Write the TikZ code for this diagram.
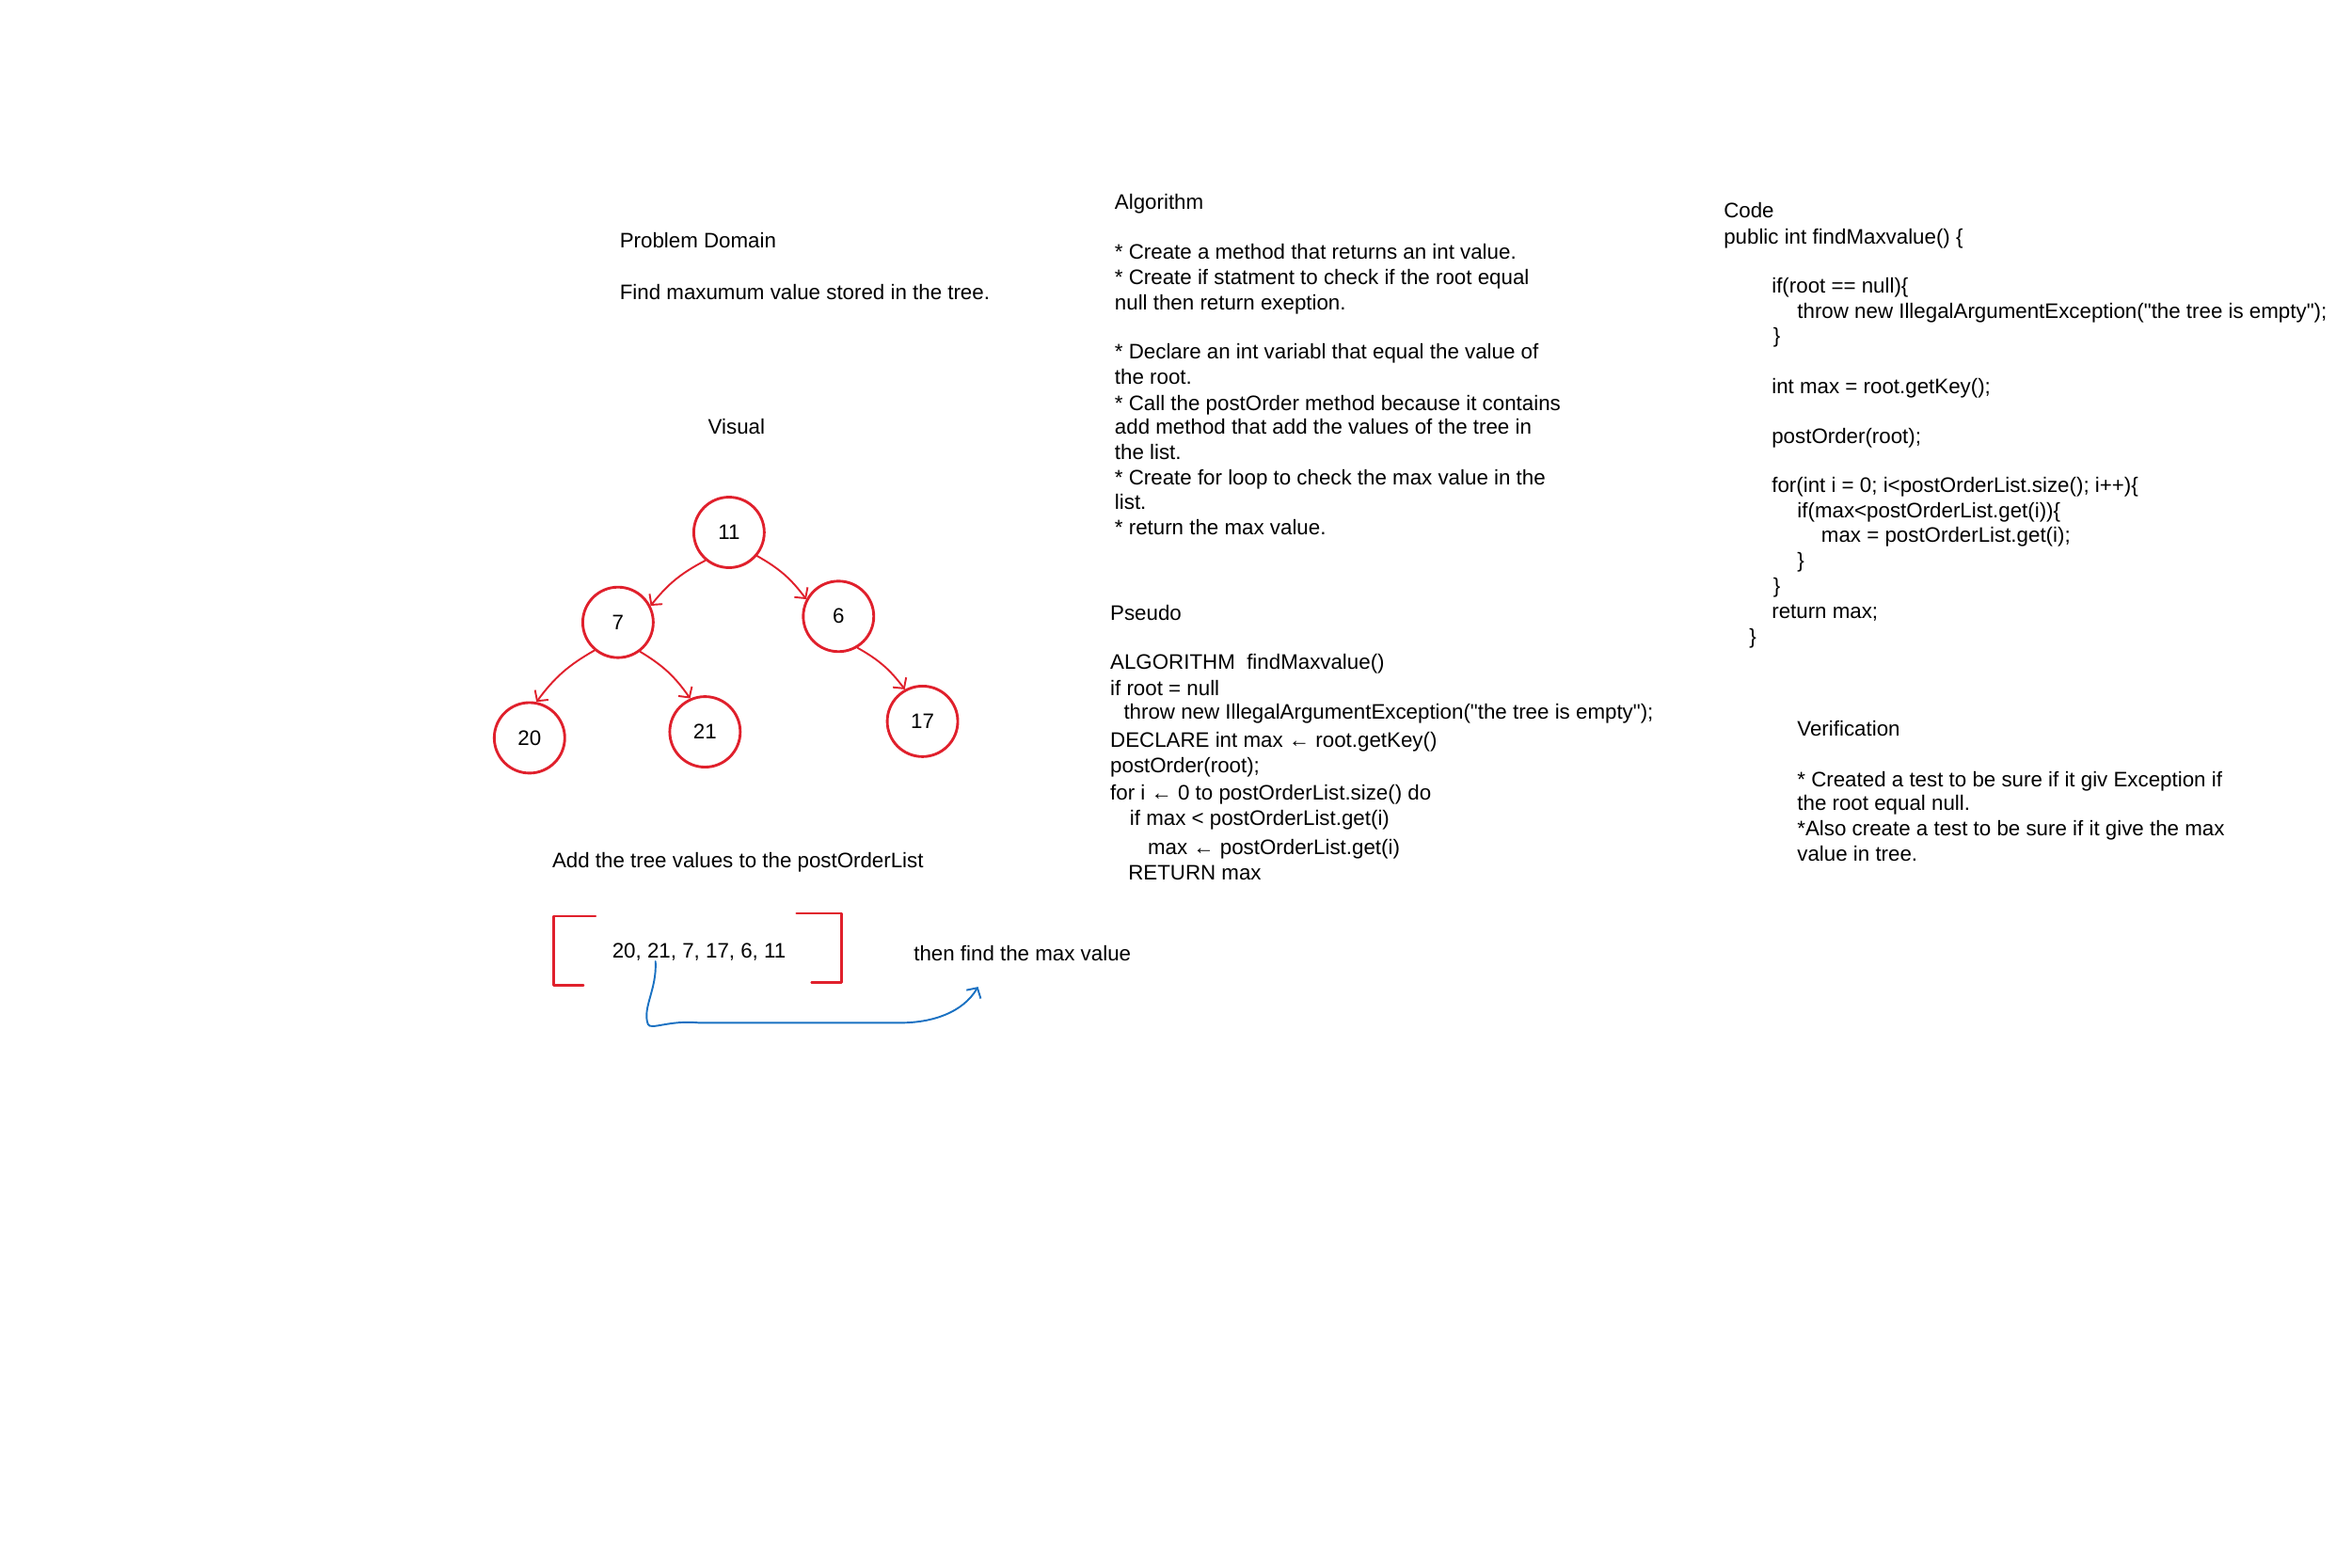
\documentclass[tikz,border=0pt]{standalone}
\usepackage{fontspec}
\setmainfont{Liberation Sans}[Ligatures=TeXOff]
\usetikzlibrary{arrows.meta}
\definecolor{sketchred}{RGB}{224,32,44}
\definecolor{sketchblue}{RGB}{25,113,194}
\newcommand\skline[4]{\node[txt] (#1) at (#2,#3) {#4};}
\begin{document}
\begin{tikzpicture}[x=1pt,y=-1pt,
  txt/.style={anchor=west,inner sep=0pt,text height=10pt,text depth=3pt,yshift=-2pt,font=\fontsize{14}{16.7}\selectfont},
  treenode/.style={circle,draw=sketchred,line width=1.8pt,minimum size=47pt,inner sep=0pt,font=\fontsize{14}{16.7}\selectfont},
  treearrow/.style={draw=sketchred,line width=1.2pt,line cap=round,-{Straight Barb[length=5pt,width=11pt]}},
  bracketline/.style={draw=sketchred,line width=1.5pt,line cap=round,line join=round},
  bluearrow/.style={draw=sketchblue,line width=1.2pt,line cap=round,-{Straight Barb[length=5pt,width=11pt]}}]
\useasboundingbox (0,0) rectangle (1568,1045.5);
\fill[white] (0,0) rectangle (1568,1045.5);

% Problem domain
\skline{pd1}{413}{160}{Problem Domain}
\skline{pd2}{413}{194}{Find maxumum value stored in the tree.}
\node[txt,anchor=center] (vis) at (491,284) {Visual};

% Tree
\node[treenode] (n11) at (486,355) {11};
\node[treenode] (n7) at (412,415) {7};
\node[treenode] (n6) at (559,411) {6};
\node[treenode] (n20) at (353,492) {20};
\node[treenode] (n21) at (470,488) {21};
\node[treenode] (n17) at (615,481) {17};
\draw[treearrow] (n11.230) to[bend right=12] (n7.27);
\draw[treearrow] (n11.320) to[bend left=12] (n6.152);
\draw[treearrow] (n7.230) to[bend right=12] (n20.79);
\draw[treearrow] (n7.307) to[bend left=12] (n21.114);
\draw[treearrow] (n6.301) to[bend left=12] (n17.119);

% Post order list
\skline{addt}{368}{573}{Add the tree values to the postOrderList}
\draw[bracketline] (397,611) -- (369,611) -- (369,657) -- (389,657);
\draw[bracketline] (531,609) -- (561,609) -- (561,655) -- (541,655);
\skline{list}{408}{633}{20, 21, 7, 17, 6, 11}
\skline{thenf}{609}{635}{then find the max value}
\coordinate (bs) at (437,641);
\coordinate (be) at (652,658);
\draw[bluearrow] (bs) .. controls (438,660) and (428,672) .. (432,683)
  .. controls (434,687) and (446,680) .. (466,682) -- (600,682)
  .. controls (622,682) and (642,675) .. (be);

% Algorithm
\skline{a0}{743}{134}{Algorithm}
\skline{a1}{743}{167}{* Create a method that returns an int value.}
\skline{a2}{743}{184}{* Create if statment to check if the root equal}
\skline{a3}{743}{201}{null then return exeption.}
\skline{a4}{743}{234}{* Declare an int variabl that equal the value of}
\skline{a5}{743}{251}{the root.}
\skline{a6}{743}{268}{* Call the postOrder method because it contains}
\skline{a7}{743}{284}{add method that add the values of the tree in}
\skline{a8}{743}{301}{the list.}
\skline{a9}{743}{318}{* Create for loop to check the max value in the}
\skline{a10}{743}{334}{list.}
\skline{a11}{743}{351}{* return the max value.}

% Pseudo
\skline{p0}{740}{408}{Pseudo}
\skline{p1}{740}{441}{ALGORITHM\ \ findMaxvalue()}
\skline{p2}{740}{458}{if root = null}
\skline{p3}{749}{474}{throw new IllegalArgumentException("the tree is empty");}
\skline{p4}{740}{493}{DECLARE int max ← root.getKey()}
\skline{p5}{740}{510}{postOrder(root);}
\skline{p6}{740}{528}{for i ← 0 to postOrderList.size() do}
\skline{p7}{753}{545}{if max < postOrderList.get(i)}
\skline{p8}{765}{564}{max ← postOrderList.get(i)}
\skline{p9}{752}{581}{RETURN max}

% Code
\skline{c0}{1149}{140}{Code}
\skline{c1}{1149}{157}{public int findMaxvalue() \{}
\skline{c2}{1181}{190}{if(root == null)\{}
\skline{c3}{1198}{207}{throw new IllegalArgumentException("the tree is empty");}
\skline{c4}{1182}{223}{\}}
\skline{c5}{1181}{257}{int max = root.getKey();}
\skline{c6}{1181}{290}{postOrder(root);}
\skline{c7}{1181}{323}{for(int i = 0; i<postOrderList.size(); i++)\{}
\skline{c8}{1198}{340}{if(max<postOrderList.get(i))\{}
\skline{c9}{1214}{356}{max = postOrderList.get(i);}
\skline{c10}{1198}{373}{\}}
\skline{c11}{1182}{390}{\}}
\skline{c12}{1181}{407}{return max;}
\skline{c13}{1166}{424}{\}}

% Verification
\skline{v0}{1198}{485}{Verification}
\skline{v1}{1198}{519}{* Created a test to be sure if it giv Exception if}
\skline{v2}{1198}{535}{the root equal null.}
\skline{v3}{1198}{552}{*Also create a test to be sure if it give the max}
\skline{v4}{1198}{569}{value in tree.}
\end{tikzpicture}
\end{document}
